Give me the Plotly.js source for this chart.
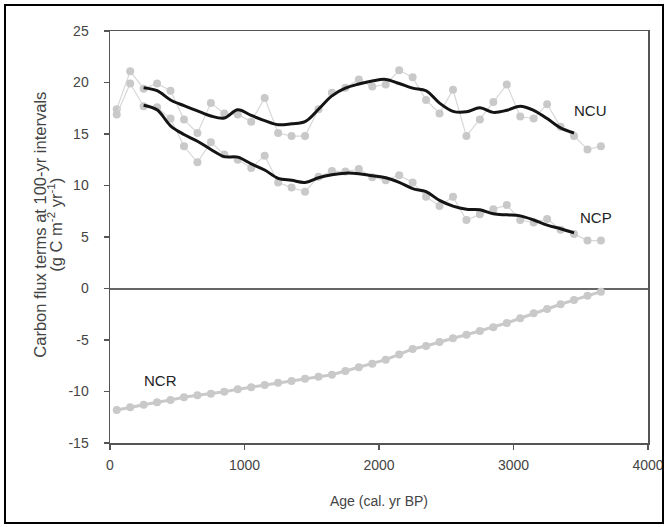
<!DOCTYPE html>
<html>
<head>
<meta charset="utf-8">
<script src="https://cdn.plot.ly/plotly-3.0.1.min.js"></script>
<style>
html,body{margin:0;padding:0;background:#fff;}
#chart{width:667px;height:527px;}
</style>
</head>
<body>
<div id="chart"></div>
<script>
// Ages (cal. yr BP) of the 100-yr interval points
const ages = [50,150,250,350,450,550,650,750,850,950,1050,1150,1250,1350,1450,1550,1650,1750,1850,1950,2050,2150,2250,2350,2450,2550,2650,2750,2850,2950,3050,3150,3250,3350,3450,3550,3650];
// NCU raw values
const ncu = [17.4,21.1,19.4,19.9,19.2,16.4,15.1,18.0,17.0,16.9,16.2,18.5,15.1,14.8,14.8,17.4,19.0,19.5,20.3,19.6,19.8,21.2,20.5,18.3,17.0,19.3,14.8,16.4,18.1,19.8,16.7,16.5,17.9,15.7,14.8,13.5,13.8];
// NCP raw values
const ncp = [16.9,19.9,17.7,17.6,16.5,13.8,12.25,14.2,13.0,12.5,11.7,12.9,10.3,9.8,9.4,10.85,11.4,11.35,11.6,10.8,10.5,11.0,10.3,8.9,8.0,8.9,6.65,7.2,7.7,8.1,6.65,6.4,6.75,5.7,5.3,4.65,4.65];
// NCR raw values
const ncr = [-11.8,-11.53,-11.28,-11.05,-10.83,-10.56,-10.37,-10.21,-10.02,-9.79,-9.59,-9.37,-9.15,-8.98,-8.76,-8.56,-8.37,-8.01,-7.65,-7.3,-6.91,-6.4,-5.87,-5.58,-5.19,-4.83,-4.49,-4.13,-3.77,-3.35,-2.89,-2.41,-1.99,-1.53,-1.12,-0.7,-0.31];
// Smoothed curves
const smoothAges = [250,350,450,550,650,750,850,950,1050,1150,1250,1350,1450,1550,1650,1750,1850,1950,2050,2150,2250,2350,2450,2550,2650,2750,2850,2950,3050,3150,3250,3350,3450];
const ncuSmooth = [19.5,19.2,18.3,17.75,17.25,16.75,16.55,17.35,16.8,16.3,15.9,16.0,16.2,17.4,18.7,19.45,19.85,20.15,20.3,19.9,19.45,19.2,18.0,17.2,17.15,17.55,17.1,17.3,17.7,17.3,16.5,15.6,15.1];
const ncpSmooth = [17.8,17.35,15.8,14.95,14.3,13.5,12.8,12.75,12.1,11.5,10.7,10.5,10.3,10.75,11.05,11.2,11.15,10.95,10.75,10.3,9.7,9.4,8.55,8.0,7.7,7.65,7.25,7.15,7.05,6.65,6.15,5.8,5.4];
// Tick labels
const yTickVals = [-15,-10,-5,0,5,10,15,20,25];
const yTickText = ['-15','-10','-5','0','5','10','15','20','25'];
const xTickVals = [0,1000,2000,3000,4000];
const xTickText = ['0','1000','2000','3000','4000'];
// Series labels
const seriesLabels = ['NCU','NCP','NCR'];
const labelAges = [3576,3613,379];
const labelVals = [17.3,6.9,-8.9];

const FONT = 'Liberation Sans, Arial, sans-serif';
const gray = '#c9c9c9';
const traces = [
  {x: ages, y: ncr, mode:'lines+markers', line:{color:gray, width:3}, marker:{color:gray, size:8}, hoverinfo:'skip'},
  {x: ages, y: ncu, mode:'lines+markers', line:{color:'#d8d8d8', width:1.2}, marker:{color:gray, size:8}, hoverinfo:'skip'},
  {x: ages, y: ncp, mode:'lines+markers', line:{color:'#d8d8d8', width:1.2}, marker:{color:gray, size:8}, hoverinfo:'skip'},
  {x: smoothAges, y: ncuSmooth, mode:'lines', line:{color:'#141414', width:3, shape:'spline', smoothing:1}, hoverinfo:'skip'},
  {x: smoothAges, y: ncpSmooth, mode:'lines', line:{color:'#141414', width:3, shape:'spline', smoothing:1}, hoverinfo:'skip'}
];

const annotations = seriesLabels.map((t,i)=>({
  x: labelAges[i], y: labelVals[i], xref:'x', yref:'y', text:t, showarrow:false,
  font:{family:FONT, size:15, color:'#222'}, xanchor:'center', yanchor:'middle'
}));
annotations.push({
  xref:'paper', yref:'paper', x:(40-110)/538, y:0.53, textangle:-90, showarrow:false,
  text:'Carbon flux terms at 100-yr intervals',
  font:{family:FONT, size:16.5, color:'#444'}, xanchor:'center', yanchor:'middle'
});
annotations.push({
  xref:'paper', yref:'paper', x:(55-110)/538, y:0.53, textangle:-90, showarrow:false,
  text:'(g C m<sup>-2</sup> yr<sup>-1</sup>)',
  font:{family:FONT, size:16.5, color:'#444'}, xanchor:'center', yanchor:'middle'
});

const layout = {
  width:667, height:527,
  margin:{l:110, r:19, t:31, b:84},
  paper_bgcolor:'#fff', plot_bgcolor:'#fff',
  showlegend:false,
  font:{family:FONT, size:14, color:'#444'},
  xaxis:{
    range:[0,4000], tickvals:xTickVals, ticktext:xTickText, showgrid:false, zeroline:false,
    showline:true, linecolor:'#555', linewidth:1.5, mirror:true,
    ticks:'outside', ticklen:5, tickcolor:'#555', tickwidth:1.5,
    tickfont:{size:14, color:'#444'}, ticklabelstandoff:4,
    title:{text:'Age (cal. yr BP)', font:{size:14, color:'#444'}, standoff:24}
  },
  yaxis:{
    range:[-15,25], tickvals:yTickVals, ticktext:yTickText, showgrid:false,
    zeroline:true, zerolinecolor:'#666', zerolinewidth:2,
    showline:true, linecolor:'#555', linewidth:1.5, mirror:true,
    ticks:'outside', ticklen:5, tickcolor:'#555', tickwidth:1.5,
    tickfont:{size:14, color:'#444'}, ticklabelstandoff:12
  },
  annotations: annotations,
  shapes:[{
    type:'rect', xref:'paper', yref:'paper',
    x0:(5-110)/538, x1:(663-110)/538, y0:(443-523)/412, y1:(443-5)/412,
    line:{color:'#000', width:2}, fillcolor:'rgba(0,0,0,0)'
  }]
};

Plotly.newPlot('chart', traces, layout, {staticPlot:true, displayModeBar:false});
</script>
</body>
</html>
